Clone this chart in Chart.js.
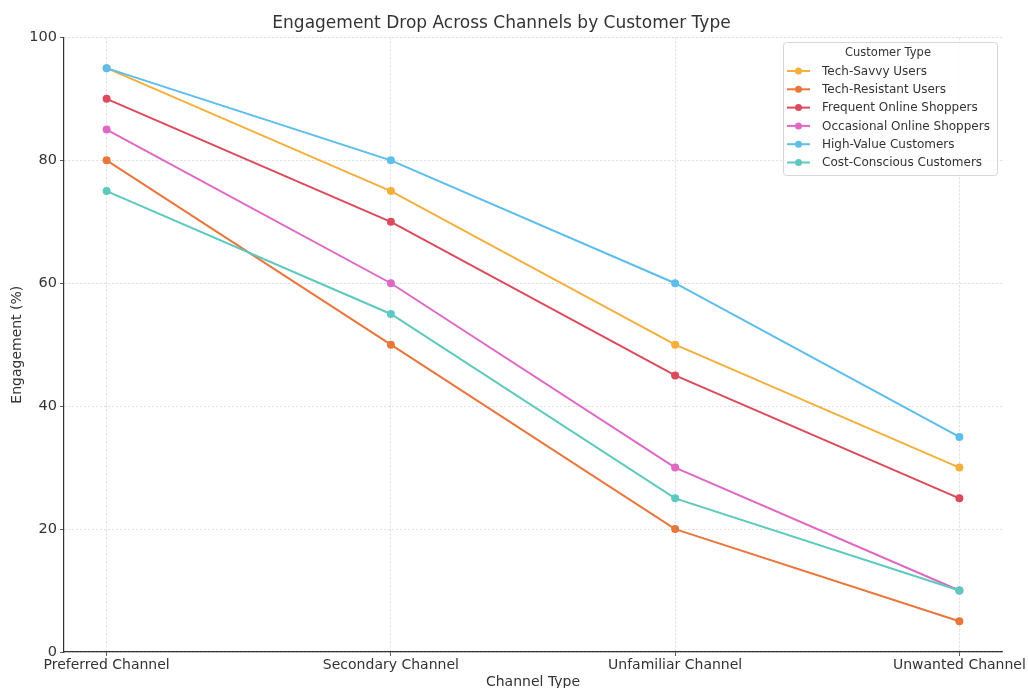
<!DOCTYPE html>
<html>
<head>
<meta charset="utf-8">
<script src="https://cdn.jsdelivr.net/npm/chart.js@4.4.1/dist/chart.umd.min.js"></script>
<style>
  html, body { margin: 0; padding: 0; background: #fff; }
  #wrap { width: 1028px; height: 688px; }
</style>
</head>
<body>
<div id="wrap"><canvas id="c" width="1028" height="688"></canvas></div>
<script>
const channels = ['Preferred Channel', 'Secondary Channel', 'Unfamiliar Channel', 'Unwanted Channel'];
const yTicks = [0, 20, 40, 60, 80, 100];

const techSavvy = [95, 75, 50, 30];
const techResistant = [80, 50, 20, 5];
const frequentOnline = [90, 70, 45, 25];
const occasionalOnline = [85, 60, 30, 10];
const highValue = [95, 80, 60, 35];
const costConscious = [75, 55, 25, 10];

const seriesNames = ['Tech-Savvy Users', 'Tech-Resistant Users', 'Frequent Online Shoppers',
  'Occasional Online Shoppers', 'High-Value Customers', 'Cost-Conscious Customers'];
const seriesValues = [techSavvy, techResistant, frequentOnline, occasionalOnline, highValue, costConscious];
const seriesColors = ['#F3B03C', '#E8773D', '#DC4B5C', '#DE68C4', '#5DBDEC', '#5DC9BF'];

const FONT = "'DejaVu Sans', sans-serif";
const TEXT = '#333333';

const datasets = seriesNames.map((name, i) => ({
  label: name,
  data: seriesValues[i].map((v, k) => ({ x: k, y: v })),
  borderColor: seriesColors[i],
  backgroundColor: seriesColors[i],
  borderWidth: 2,
  pointRadius: 4,
  pointHoverRadius: 4,
  pointBorderWidth: 0,
  tension: 0,
  order: -i
}));

// Legend box drawn inside the plot area, upper right
const boxLegend = {
  id: 'boxLegend',
  afterDraw(chart) {
    const ctx = chart.ctx;
    const ds = chart.data.datasets;
    const x0 = 783, y0 = 42, w = 214, h = 133;
    ctx.save();
    ctx.fillStyle = 'rgba(255,255,255,0.85)';
    ctx.strokeStyle = '#d6d6d6';
    ctx.lineWidth = 1;
    ctx.beginPath();
    ctx.roundRect(x0 + 0.5, y0 + 0.5, w, h, 3);
    ctx.fill();
    ctx.stroke();
    ctx.fillStyle = TEXT;
    ctx.textBaseline = 'middle';
    ctx.textAlign = 'center';
    ctx.font = '11.5px ' + FONT;
    ctx.fillText('Customer Type', x0 + w / 2 - 2, y0 + 11);
    ctx.textAlign = 'left';
    ctx.font = '12px ' + FONT;
    ds.forEach((d, i) => {
      const y = y0 + 29 + i * 18.3;
      ctx.strokeStyle = d.borderColor;
      ctx.lineWidth = 2;
      ctx.beginPath();
      ctx.moveTo(x0 + 4, y);
      ctx.lineTo(x0 + 27, y);
      ctx.stroke();
      ctx.fillStyle = d.borderColor;
      ctx.beginPath();
      ctx.arc(x0 + 15.5, y, 3.5, 0, Math.PI * 2);
      ctx.fill();
      ctx.fillStyle = TEXT;
      ctx.fillText(d.label, x0 + 39, y + 0.5);
    });
    ctx.restore();
  }
};

new Chart(document.getElementById('c'), {
  type: 'line',
  data: { datasets },
  plugins: [boxLegend],
  options: {
    responsive: false,
    animation: false,
    events: [],
    layout: { padding: { left: 0, right: 25, top: 0, bottom: 0 } },
    plugins: {
      legend: { display: false },
      tooltip: { enabled: false },
      title: {
        display: true,
        text: 'Engagement Drop Across Channels by Customer Type',
        color: TEXT,
        font: { family: FONT, size: 17, weight: 'normal' },
        padding: { top: 13, bottom: 4 }
      }
    },
    scales: {
      x: {
        type: 'linear',
        min: -0.15,
        max: 3.15,
        afterBuildTicks(scale) {
          scale.ticks = channels.map((_, k) => ({ value: k }));
        },
        afterFit(scale) { scale.height = 36; },
        ticks: {
          color: TEXT,
          font: { family: FONT, size: 14 },
          padding: 1,
          maxRotation: 0,
          autoSkip: false,
          callback: (v) => channels[v]
        },
        grid: {
          color: '#d4d4d4',
          lineWidth: 0.8,
          drawTicks: true,
          tickLength: 4,
          tickColor: '#333',
          tickBorderDash: []
        },
        border: { display: true, color: '#333', width: 1.2, dash: [2, 2] },
        title: {
          display: true,
          text: 'Channel Type',
          color: TEXT,
          font: { family: FONT, size: 14 },
          padding: { top: 0, bottom: -3 }
        }
      },
      y: {
        min: 0,
        max: 100,
        afterBuildTicks(scale) {
          scale.ticks = yTicks.map(v => ({ value: v }));
        },
        afterFit(scale) { scale.width = 64; },
        ticks: {
          color: TEXT,
          font: { family: FONT, size: 14.5 },
          padding: 3
        },
        grid: {
          color: '#d4d4d4',
          lineWidth: 0.8,
          drawTicks: true,
          tickLength: 4,
          tickColor: '#333',
          tickBorderDash: []
        },
        border: { display: true, color: '#333', width: 1.2, dash: [2, 2] },
        title: {
          display: true,
          text: 'Engagement (%)',
          color: TEXT,
          font: { family: FONT, size: 14 },
          padding: { top: 9, bottom: 0 }
        }
      }
    }
  }
});
</script>
</body>
</html>
